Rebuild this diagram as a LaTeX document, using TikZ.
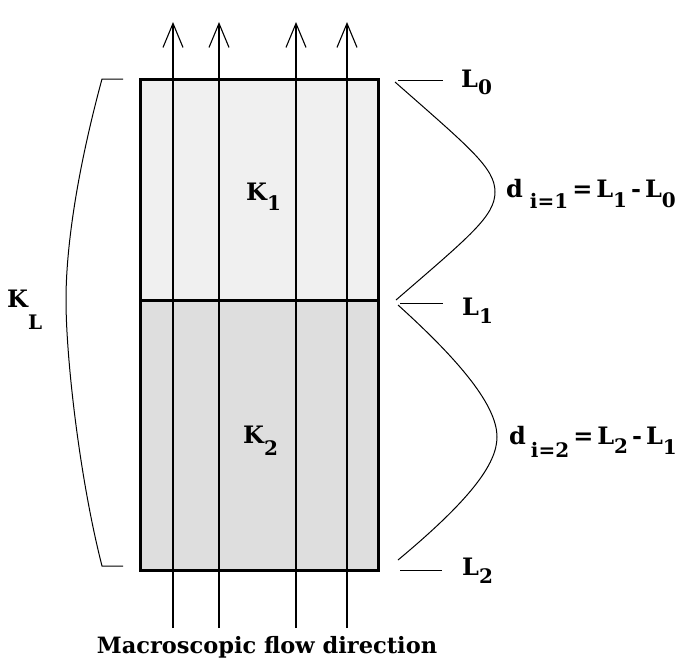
\documentclass[tikz,border=0pt]{standalone}
\usepackage{fontspec}
\setmainfont{DejaVu Serif}
\usetikzlibrary{arrows.meta}
\newcommand{\lowsub}[2][8pt]{\raisebox{-#1}{\fontsize{20}{20}\selectfont #2}}
\begin{document}
\begin{tikzpicture}[x=1pt,y=-1pt,
  lbl/.style={anchor=base west,inner sep=0pt,font=\fontsize{24}{24}\selectfont\bfseries},
  flow/.style={line width=1.1pt,-{Straight Barb[length=24pt,width=20pt,line width=1.1pt]}},
  bracket/.style={line width=1pt},
  frame/.style={line width=3pt}]
\useasboundingbox (0,0) rectangle (683,662);
% fills
\fill[gray!12] (140,79) rectangle (378,300);
\fill[gray!26] (140,300) rectangle (378,570);
% flow arrows
\foreach \x/\n in {173/a,219/b,296/c,347/d}{
  \coordinate (s\n) at (\x,628);
  \coordinate (e\n) at (\x,22);
  \draw[flow] (s\n) -- (e\n);
}
% frame
\draw[frame] (140,79) rectangle (378,570);
\draw[frame] (140,300) -- (378,300);
% labels in boxes
\node[lbl] (k1) at (246,200) {K\lowsub[10pt]{1}};
\node[lbl] (k2) at (243,443) {K\lowsub[12pt]{2}};
% left bracket
\coordinate (bt) at (123,79);
\coordinate (bb) at (123,566);
\draw[bracket] (bt) -- (102,79) .. controls (80,160) and (66,240) .. (66,300)
  .. controls (66,360) and (80,480) .. (102,566) -- (bb);
\node[lbl] (kl) at (7,307) {K\lowsub[22pt]{L}};
% ticks
\coordinate (t0a) at (398,80); \coordinate (t0b) at (443,80);
\coordinate (t1a) at (400,303); \coordinate (t1b) at (443,303);
\coordinate (t2a) at (400,570); \coordinate (t2b) at (442,570);
\draw[bracket] (t0a) -- (t0b);
\draw[bracket] (t1a) -- (t1b);
\draw[bracket] (t2a) -- (t2b);
\node[lbl] (l0) at (461,87) {L\lowsub[7pt]{0}};
\node[lbl] (l1) at (462,315) {L\lowsub[8pt]{1}};
\node[lbl] (l2) at (462,575) {L\lowsub[8pt]{2}};
% right curves
\coordinate (c1a) at (395,82); \coordinate (c1b) at (396,300);
\coordinate (c2a) at (398,305); \coordinate (c2b) at (398,560);
\draw[bracket] (c1a) .. controls (470,148) and (495,168) .. (495,192)
  .. controls (495,216) and (470,236) .. (c1b);
\draw[bracket] (c2a) .. controls (470,370) and (497,410) .. (497,437)
  .. controls (497,464) and (470,500) .. (c2b);
\node[lbl] (d1) at (506,197) {d\hspace{7pt}\lowsub[11pt]{i=1}\,=\,L\lowsub[10pt]{1}\,-\,L\lowsub[10pt]{0}};
\node[lbl] (d2) at (509,444) {d\hspace{5pt}\lowsub[13pt]{i=2}\,=\,L\lowsub[9pt]{2}\,-\,L\lowsub[10pt]{1}};
% caption
\node[anchor=base,inner sep=0pt,font=\fontsize{22.5}{22.5}\selectfont\bfseries] (cap) at (267,653) {Macroscopic flow direction};
\end{tikzpicture}
\end{document}
